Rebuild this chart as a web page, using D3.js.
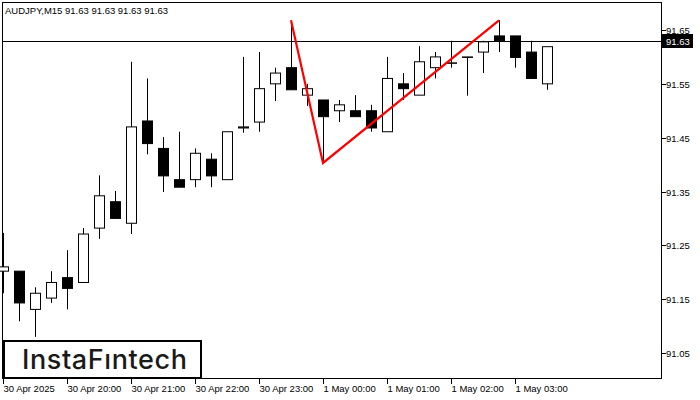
<!DOCTYPE html>
<html><head><meta charset="utf-8">
<script src="https://cdn.jsdelivr.net/npm/d3@7"></script>
<style>body{margin:0;background:#fff}svg{display:block}</style>
</head><body><svg id="c" width="700" height="400"></svg>
<script>
const opens  = [91.202,91.202,91.131,91.152,91.190,91.181,91.282,91.331,91.291,91.481,91.430,91.372,91.372,91.410,91.372,91.468,91.479,91.550,91.580,91.529,91.520,91.500,91.500,91.500,91.461,91.550,91.529,91.580,91.589,91.600,91.609,91.639,91.639,91.609,91.550];
const highs  = [91.273,91.202,91.172,91.202,91.241,91.282,91.380,91.351,91.591,91.560,91.451,91.461,91.430,91.421,91.461,91.600,91.609,91.580,91.668,91.550,91.520,91.520,91.529,91.511,91.600,91.570,91.620,91.609,91.630,91.600,91.630,91.668,91.639,91.630,91.619];
const lows   = [91.161,91.109,91.080,91.143,91.131,91.181,91.262,91.300,91.271,91.419,91.349,91.358,91.358,91.358,91.372,91.459,91.461,91.518,91.539,91.509,91.403,91.479,91.489,91.461,91.461,91.520,91.529,91.560,91.580,91.528,91.570,91.609,91.580,91.560,91.539];
const closes = [91.210,91.143,91.161,91.181,91.170,91.271,91.342,91.300,91.470,91.439,91.379,91.358,91.421,91.379,91.461,91.470,91.541,91.570,91.539,91.541,91.489,91.511,91.489,91.468,91.560,91.541,91.591,91.600,91.589,91.600,91.628,91.630,91.599,91.560,91.619];
const yTicks = [91.05,91.15,91.25,91.35,91.45,91.55,91.65];
const xTickIdx = [0,4,8,12,16,20,24,28,32];
const xTickLabels = ["30 Apr 2025","30 Apr 20:00","30 Apr 21:00","30 Apr 22:00","30 Apr 23:00","1 May 00:00","1 May 01:00","1 May 02:00","1 May 03:00"];
const pattern = [[18,91.668],[20,91.403],[31,91.668]];
const lastPrice = 91.63;
const title = "AUDJPY,M15  91.63 91.63 91.63 91.63";

const svg = d3.select("#c");
const x = d3.scaleLinear().domain([0,1]).range([3,19]);
const y = d3.scaleLinear().domain([91.05,91.65]).range([353,30]);
const F = "Liberation Sans, Arial, sans-serif";

svg.append("rect").attr("x",2.5).attr("y",2.5).attr("width",659).attr("height",376).attr("fill","none").attr("stroke","#000");
svg.append("text").attr("x",5).attr("y",14).attr("font-family",F).attr("font-size",9.5).text(title);

svg.append("line").attr("x1",2).attr("x2",661).attr("y1",Math.round(y(lastPrice))+0.5).attr("y2",Math.round(y(lastPrice))+0.5).attr("stroke","#000");

const idx = d3.range(opens.length);
const g = svg.append("g");
g.selectAll("line.w").data(idx).join("line")
 .attr("x1",i=>Math.round(x(i))+0.5).attr("x2",i=>Math.round(x(i))+0.5)
 .attr("y1",i=>y(highs[i])).attr("y2",i=>y(lows[i])).attr("stroke","#000");
g.selectAll("rect.b").data(idx).join("rect")
 .attr("x",i=>Math.round(x(i))-4.5).attr("width",10)
 .attr("y",i=>y(Math.max(opens[i],closes[i])))
 .attr("height",i=>Math.max(0.5,Math.abs(y(opens[i])-y(closes[i]))))
 .attr("fill",i=>closes[i]<opens[i]?"#000":"#fff").attr("stroke","#000");

svg.append("path").attr("d",d3.line().x(d=>x(d[0])).y(d=>y(d[1]))(pattern))
 .attr("fill","none").attr("stroke","#f00").attr("stroke-width",2.2);

yTicks.forEach(t=>{
  const yy=Math.round(y(t))+0.5;
  svg.append("line").attr("x1",662).attr("x2",666).attr("y1",yy).attr("y2",yy).attr("stroke","#000");
  svg.append("text").attr("x",666).attr("y",yy+3.5).attr("font-family",F).attr("font-size",9.5).text(t.toFixed(2));
});
const ly=Math.round(y(lastPrice));
svg.append("rect").attr("x",662).attr("y",ly-7).attr("width",31).attr("height",14).attr("fill","#000");
svg.append("text").attr("x",666).attr("y",ly+4).attr("font-family",F).attr("font-size",9.5).attr("fill","#fff").text(lastPrice.toFixed(2));

xTickIdx.forEach((t,k)=>{
  const xx=Math.round(x(t))+0.5;
  svg.append("line").attr("x1",xx).attr("x2",xx).attr("y1",379).attr("y2",384).attr("stroke","#000");
  svg.append("text").attr("x",xx).attr("y",392).attr("font-family",F).attr("font-size",9.5).text(xTickLabels[k]);
});

svg.append("rect").attr("x",4).attr("y",341).attr("width",197).attr("height",37).attr("fill","#fff").attr("stroke","#000").attr("stroke-width",2);
svg.append("text").attr("x",22).attr("y",369).attr("font-family","Inter, Noto Sans, sans-serif").attr("font-size",27).attr("font-weight",500).attr("letter-spacing",0.6).attr("fill","#1a1a1a").text("InstaFıntech");
</script></body></html>
